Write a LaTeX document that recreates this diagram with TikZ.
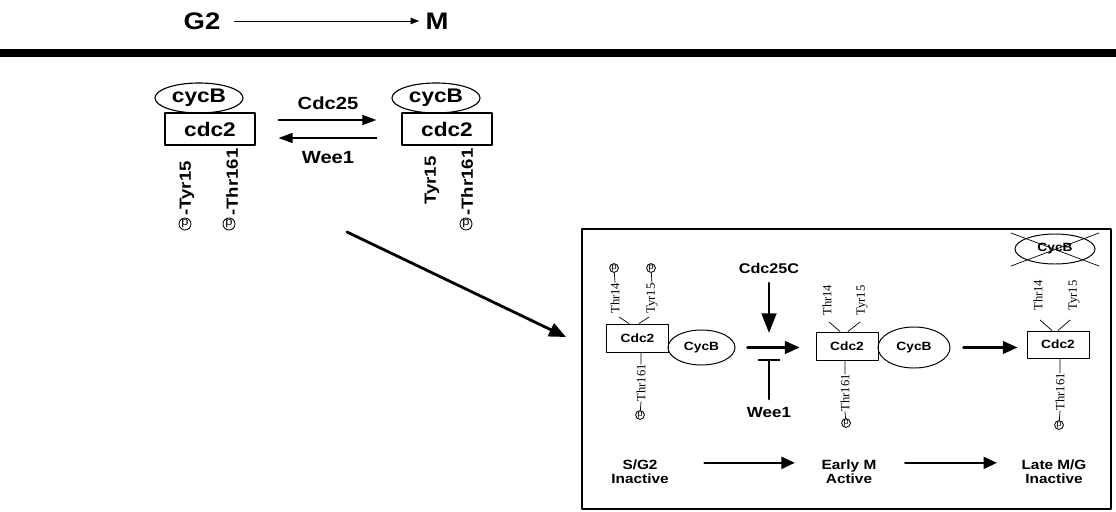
\documentclass[tikz,border=0pt]{standalone}
\usepackage{fontspec}
\setmainfont{Liberation Sans}[FakeStretch=1.15]
\newfontfamily\resfont{Liberation Serif}
\usetikzlibrary{arrows.meta,calc,shapes.geometric}

\tikzset{
  kinbig/.style={draw,line width=0.8pt,minimum width=2.25cm,minimum height=0.8cm,inner sep=0pt,
    font=\fontsize{14}{16}\selectfont\bfseries},
  cycbig/.style={ellipse,draw,line width=0.8pt,minimum width=2.2cm,minimum height=0.75cm,inner sep=0pt,
    font=\fontsize{14}{16}\selectfont\bfseries},
  site/.style={rotate=90,inner sep=0pt,font=\fontsize{11.5}{13}\selectfont\bfseries},
  phos/.style={circle,draw,line width=0.6pt,minimum size=0.3cm,inner sep=0pt,font=\fontsize{8}{8}\selectfont},
  kin/.style={draw,line width=0.7pt,minimum width=1.55cm,minimum height=0.7cm,inner sep=0pt,
    font=\fontsize{8.5}{10}\selectfont\bfseries},
  cyc/.style={ellipse,draw,line width=0.7pt,inner sep=0pt,font=\fontsize{8.5}{10}\selectfont\bfseries},
  res/.style={rotate=90,inner sep=0pt,font=\resfont\fontsize{9}{9}\selectfont},
  dot/.style={circle,draw,line width=0.6pt,minimum size=0.22cm,inner sep=0pt,font=\fontsize{6}{6}\selectfont},
  phase/.style={align=center,font=\fontsize{9.5}{10}\selectfont\bfseries},
  toparr/.style={line width=1.2pt,-{Triangle[length=10pt,width=7pt]}},
  midarr/.style={line width=1.8pt,-{Triangle[length=10.5pt,width=9pt]}},
  botarr/.style={line width=1.6pt,-{Triangle[length=9.5pt,width=8.5pt]}}
}

\begin{document}
\begin{tikzpicture}[x=0.025cm,y=-0.025cm,line cap=round,line join=round,font=\bfseries]
  \useasboundingbox (0,0) rectangle (1116,512);
  % title row
  \node[font=\fontsize{17}{20}\selectfont\bfseries] (G2) at (202,21) {G2};
  \node[font=\fontsize{17}{20}\selectfont\bfseries] (M) at (437,21) {M};
  \draw[line width=0.7pt,-{Triangle[length=6pt,width=4.5pt]},shorten <=6.7pt,shorten >=1pt] (G2) -- (M);
  \coordinate (L) at (0,53); \coordinate (R) at (1116,53);
  \draw[line width=5.7pt,line cap=butt] (L) -- (R);

  % cdc2/cycB, both forms
  \node[cycbig] (yA) at (199,98) {cycB};
  \node[kinbig] (kA) at (210,129) {cdc2};
  \node[site,anchor=west] (tyA) at (187,216) {-Tyr15};
  \node[site,anchor=west] (thA) at (232,216) {-Thr161};
  \node[phos] (pA) at (185,224) {p}; \node[phos] (pB) at (229,224) {p};
  \node[cycbig] (yB) at (436,98) {cycB};
  \node[kinbig] (kB) at (447,129) {cdc2};
  \node[site,anchor=west] (tyB) at (432,205) {Tyr15};
  \node[site,anchor=west] (thB) at (467,216) {-Thr161};
  \node[phos] (pC) at (466,224) {p};
  \draw[toparr,shorten <=16.3pt,shorten >=17.7pt] ([yshift=6.4pt]kA.east) -- ([yshift=6.4pt]kB.west);
  \draw[toparr,shorten <=17.7pt,shorten >=16.3pt] ([yshift=-6.4pt]kB.west) -- ([yshift=-6.4pt]kA.east);
  \node[font=\fontsize{12.5}{14}\selectfont\bfseries] (c25) at (328,103) {Cdc25};
  \node[font=\fontsize{12.5}{14}\selectfont\bfseries] (w1top) at (328,158) {Wee1};

  % pointer to the panel
  \coordinate (dS) at (347,232); \coordinate (dE) at (566,337);
  \draw[line width=2pt,-{Triangle[length=12pt,width=10pt]}] (dS) -- (dE);
  \coordinate (fA) at (582,229); \coordinate (fB) at (1111,509);
  \draw[line width=1.6pt] (fA) rectangle (fB);

  % S/G2
  \node[kin] (k1) at (637.5,338) {Cdc2};
  \node[cyc,minimum width=1.675cm,minimum height=0.875cm] (y1) at (701.5,347.5) {CycB};
  \node[res,anchor=west] (t14a) at (615,314) {Thr14};
  \node[res,anchor=west] (t15a) at (652,314) {Tyr15};
  \node[dot] (d14a) at (614,268) {p}; \node[dot] (d15a) at (651,268) {p};
  \draw[line width=0.5pt] (t14a.east) -- (d14a) (t15a.east) -- (d15a);
  \draw[line width=0.5pt] ($(t14a.west)+(4,3)$) -- ($(k1.north)+(-8.5,0)$)
    ($(t15a.west)+(-3,3)$) -- ($(k1.north)+(1.5,0)$);
  \node[res,anchor=east] (t161a) at (641,364) {Thr161};
  \node[dot] (d161a) at (640,415) {p};
  \draw[line width=0.5pt] (t161a.east) -- (t161a.east |- k1.south) (t161a.west) -- (d161a);

  % early M
  \node[kin] (k2) at (847,346) {Cdc2};
  \node[cyc,minimum width=1.8cm,minimum height=1.025cm] (y2) at (914,347.5) {CycB};
  \node[res,anchor=west] (t14b) at (827,316) {Thr14};
  \node[res,anchor=west] (t15b) at (862,316) {Tyr15};
  \draw[line width=0.5pt] ($(t14b.west)+(2,6)$) -- ($(k2.north)+(-7,0)$)
    ($(t15b.west)+(-2,6)$) -- ($(k2.north)+(1,0)$);
  \node[res,anchor=east] (t161b) at (845,374) {Thr161};
  \node[dot] (d161b) at (846,423) {p};
  \draw[line width=0.5pt] (t161b.east) -- (t161b.east |- k2.south) (t161b.west) -- (d161b);

  % late M/G
  \node[kin,minimum height=0.675cm] (k3) at (1058,344.5) {Cdc2};
  \node[cyc,minimum width=2cm,minimum height=0.75cm] (y3) at (1055,249) {CycB};
  \draw[line width=0.5pt] ($(y3)+(-44,17)$) -- ($(y3)+(44,-16)$) ($(y3)+(-44,-16)$) -- ($(y3)+(44,17)$);
  \node[res,anchor=west] (t14c) at (1038,311) {Thr14};
  \node[res,anchor=west] (t15c) at (1074,311) {Tyr15};
  \draw[line width=0.5pt] ($(t14c.west)+(2,9)$) -- ($(k3.north)+(-6,0)$)
    ($(t15c.west)+(-4,9)$) -- (k3.north);
  \node[res,anchor=east] (t161c) at (1060,373) {Thr161};
  \node[dot] (d161c) at (1059,425) {p};
  \draw[line width=0.5pt] (t161c.east) -- (t161c.east |- k3.south) (t161c.west) -- (d161c);

  % regulation
  \coordinate (jn) at (769,347);
  \draw[midarr,shorten <=8.5pt,shorten >=11.3pt] (y1.east) -- (y1.east -| k2.west);
  \draw[midarr,shorten <=9.2pt,shorten >=6.4pt] (y2.east) -- (y2.east -| k3.west);
  \node[font=\fontsize{10}{12}\selectfont\bfseries] (c25c) at (769,268) {Cdc25C};
  \draw[line width=1.8pt,-{Triangle[length=14pt,width=10.5pt]},shorten <=3.5pt,shorten >=10pt] (c25c) -- (jn);
  \node[font=\fontsize{10.5}{12}\selectfont\bfseries] (w1) at (769,412) {Wee1};
  \draw[line width=1.8pt,-{Bar[width=15.5pt,line width=1.8pt]},shorten <=2pt,shorten >=8.5pt] (w1) -- (jn);

  % phases
  \node[phase] (ph1) at (640,472) {S/G2\\Inactive};
  \node[phase] (ph2) at (849,472) {Early M\\Active};
  \node[phase] (ph3) at (1054,472) {Late M/G\\Inactive};
  \draw[botarr,shorten <=22pt,shorten >=15.6pt] ([yshift=6.5pt]ph1.east) -- ([yshift=6.5pt]ph2.west);
  \draw[botarr,shorten <=17pt,shorten >=14pt] ([yshift=6.5pt]ph2.east) -- ([yshift=6.5pt]ph3.west);
\end{tikzpicture}
\end{document}
